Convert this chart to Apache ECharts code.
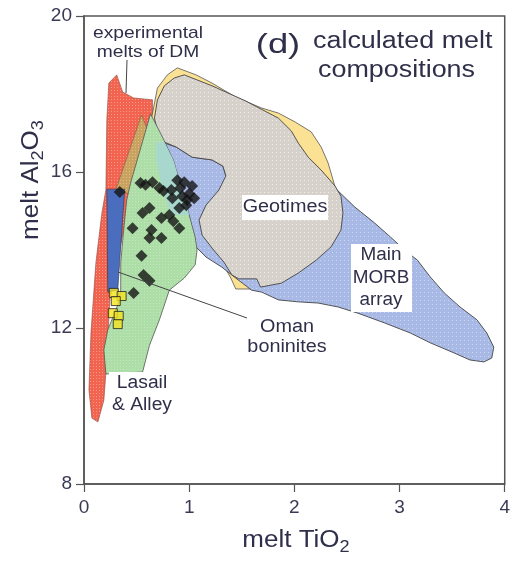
<!DOCTYPE html>
<html><head><meta charset="utf-8">
<script src="https://cdn.jsdelivr.net/npm/echarts@6/dist/echarts.min.js"></script>
<style>html,body{margin:0;padding:0;background:#fff}#c{width:513px;height:561px}</style>
</head><body><div id="c"></div>
<script>
// ---- axis ticks ----
const xTickValues = [0, 1, 2, 3, 4];
const yTickValues = [8, 12, 16, 20];

// ---- fields (melt TiO2, melt Al2O3) ----
const expMeltsDM = [[0.236,18.28],[0.311,18.49],[0.368,18.05],[0.472,17.90],[0.651,17.85],[0.651,16.56],[0.434,15.28],[0.245,12.72],[0.217,11.18],[0.189,10.15],[0.132,9.59],[0.075,9.69],[0.047,10.41],[0.066,11.87],[0.113,13.67],[0.170,14.95],[0.208,15.54],[0.217,17.33]];
const tanField = [[0.547,17.46],[0.642,16.82],[0.481,15.41],[0.302,15.54]];
const geotimesEnvelope = [[0.642,17.38],[0.698,18.15],[0.792,18.49],[0.887,18.67],[1.066,18.49],[1.217,18.28],[1.443,17.92],[1.689,17.64],[1.849,17.51],[2.009,17.28],[2.160,17.03],[2.255,16.64],[2.321,16.23],[2.387,15.62],[2.226,14.51],[1.679,13.00],[1.443,13.00],[1.396,13.28],[1.189,14.26],[0.764,16.56]];
const morbArray = [[0.679,16.82],[0.877,16.64],[1.028,16.38],[1.217,16.31],[1.321,16.15],[1.349,15.90],[1.708,15.85],[2.387,15.59],[2.575,15.10],[2.764,14.69],[2.915,14.33],[3.047,14.00],[3.170,13.74],[3.292,13.31],[3.425,12.90],[3.575,12.54],[3.736,12.21],[3.830,11.87],[3.896,11.51],[3.877,11.23],[3.802,11.13],[3.670,11.18],[3.519,11.36],[3.292,11.62],[3.104,11.87],[2.858,12.13],[2.604,12.38],[2.415,12.54],[2.226,12.64],[2.038,12.67],[1.849,12.72],[1.689,12.92],[1.594,12.97],[1.443,13.28],[1.311,13.56],[1.160,13.82],[1.075,14.05],[0.953,14.26],[0.830,14.90],[0.745,15.54],[0.689,16.31]];
const geotimesField = [[0.670,17.38],[0.698,17.85],[0.764,18.21],[0.858,18.41],[0.953,18.49],[1.217,18.21],[1.538,17.82],[1.849,17.38],[1.972,17.05],[2.038,16.74],[2.132,16.38],[2.255,16.05],[2.387,15.64],[2.443,15.38],[2.462,14.95],[2.443,14.51],[2.349,14.08],[2.208,13.74],[2.038,13.41],[1.877,13.15],[1.679,13.05],[1.642,13.26],[1.472,13.26],[1.406,13.36],[1.330,13.69],[1.217,14.05],[1.123,14.38],[1.094,14.77],[1.160,15.15],[1.283,15.54],[1.349,15.90],[1.321,16.15],[1.217,16.31],[1.028,16.38],[0.877,16.64],[0.717,16.82]];
const lasailAlley = [[0.632,17.49],[0.736,16.95],[0.849,16.31],[0.962,15.28],[1.057,14.33],[1.075,14.00],[1.057,13.62],[0.953,13.28],[0.811,12.97],[0.717,12.21],[0.623,11.56],[0.557,10.87],[0.208,10.82],[0.189,11.44],[0.226,11.95],[0.321,12.59],[0.349,12.97],[0.349,13.67],[0.377,14.51],[0.406,15.28],[0.443,15.72],[0.547,16.69]];
const overlapField = [[0.689,16.77],[0.764,16.77],[0.849,16.31],[0.962,15.28],[1.000,14.90],[0.830,14.90],[0.745,15.54],[0.689,16.31]];
const omanField = [[0.217,15.56],[0.387,15.56],[0.321,12.97],[0.226,12.92]];

// ---- points ----
const diamondsTiO2 = [0.340,0.538,0.585,0.651,0.717,0.755,0.887,0.915,0.840,0.934,1.000,1.047,0.972,0.906,0.557,0.623,0.736,0.811,0.849,0.906,0.462,0.642,0.623,0.736,0.547,0.566,0.623,0.472,1.028,0.953,0.830,0.981];
const diamondsAl2O3 = [15.49,15.72,15.67,15.74,15.59,15.51,15.79,15.59,15.33,15.38,15.44,15.33,15.15,15.08,14.95,15.08,14.82,14.90,14.74,14.56,14.56,14.51,14.31,14.31,13.85,13.36,13.21,12.90,15.64,15.74,15.54,15.28];
const squaresTiO2 = [0.283,0.358,0.302,0.274,0.330,0.321];
const squaresAl2O3 = [12.90,12.82,12.69,12.38,12.31,12.10];

function pat(base, dot, step) {
  const c = document.createElement('canvas');
  c.width = step; c.height = step;
  const g = c.getContext('2d');
  g.fillStyle = base; g.fillRect(0, 0, step, step);
  g.fillStyle = dot; g.fillRect(0, 0, 1, 1);
  return {image: c, repeat: 'repeat'};
}
function poly(name, pts, fill, stroke, lw) {
  return {
    type: 'custom', name: name, coordinateSystem: 'cartesian2d', silent: true,
    data: [[0, 8]],
    renderItem: function (params, api) {
      return {type: 'polygon', shape: {points: pts.map(p => api.coord(p))},
        style: {fill: fill, stroke: stroke, lineWidth: lw}};
    }
  };
}
const txtColor = '#2f2f4a';
const FF = '"Liberation Sans", Arial, sans-serif';
function t(text, x, y, size, align, sx, extra) {
  return Object.assign({type: 'text', x: x, y: y, z: 100, scaleX: sx || 1.13,
    style: {text: text, fill: txtColor, font: size + 'px ' + FF, textAlign: align || 'center', textVerticalAlign: 'middle'}}, extra || {});
}
function box(x1, y1, x2, y2) {
  return {type: 'rect', z: 99, shape: {x: x1, y: y1, width: x2 - x1, height: y2 - y1}, style: {fill: '#fff'}};
}
function ln(x1, y1, x2, y2) {
  return {type: 'line', z: 101, shape: {x1: x1, y1: y1, x2: x2, y2: y2}, style: {stroke: '#444', lineWidth: 1}};
}

const chart = echarts.init(document.getElementById('c'), null, {renderer: 'canvas'});
const axisCol = '#555';
chart.setOption({
  animation: false,
  grid: {left: 84, right: 5, top: 16, bottom: 77, show: true, borderColor: axisCol, borderWidth: 1.5},
  xAxis: {type: 'value', min: xTickValues[0], max: xTickValues[xTickValues.length - 1], interval: 1,
    axisLine: {lineStyle: {color: axisCol, width: 1.5}}, axisTick: {length: 8, lineStyle: {color: axisCol, width: 1.2}},
    splitLine: {show: false},
    axisLabel: {margin: 14, color: '#3a3a55', fontSize: 19, fontFamily: FF}},
  yAxis: {type: 'value', min: yTickValues[0], max: yTickValues[yTickValues.length - 1], interval: 4,
    axisLine: {show: true, lineStyle: {color: axisCol, width: 1.5}}, axisTick: {show: true, length: 8, lineStyle: {color: axisCol, width: 1.2}},
    splitLine: {show: false},
    axisLabel: {margin: 12, color: '#3a3a55', fontSize: 19, fontFamily: FF}},
  series: [
    poly('experimental melts of DM', expMeltsDM, pat('#f2644f', 'rgba(255,190,180,0.6)', 3), '#8a4a40', 0.6),
    poly('Geotimes envelope', geotimesEnvelope, '#fbe194', '#555', 0.8),
    poly('Main MORB array', morbArray, pat('#a8b9e6', 'rgba(235,240,255,0.55)', 4), '#444', 0.9),
    poly('Geotimes', geotimesField, pat('#d7d1cb', 'rgba(255,255,255,0.6)', 4), '#444', 0.9),
    poly('tan', tanField, pat('#c9a260', 'rgba(240,220,180,0.5)', 3), '#6a5a40', 0.5),
    poly('Lasail & Alley', lasailAlley, pat('#addea8', 'rgba(215,240,210,0.5)', 3), '#555', 0.8),
    poly('overlap', overlapField, '#a7d7cd', null, 0),
    poly('Oman', omanField, '#4a6dbd', '#334', 0.6),
    {type: 'scatter', name: 'squares', symbol: 'rect', symbolSize: 9, silent: true,
      itemStyle: {color: '#f2e41f', borderColor: '#222', borderWidth: 1},
      data: squaresTiO2.map((v, i) => [v, squaresAl2O3[i]])},
    {type: 'scatter', name: 'diamonds', symbol: 'diamond', symbolSize: 12, silent: true,
      itemStyle: {color: '#141414'},
      data: diamondsTiO2.map((v, i) => [v, diamondsAl2O3[i]])}
  ],
  graphic: [
    box(242, 195, 328, 220), box(351, 244, 412, 312), box(109, 372, 176, 417),
    ln(127, 60, 126, 93), ln(118, 272, 247, 318),
    t('experimental', 148, 33, 17), t('melts of DM', 148, 52, 17),
    t('(d)', 278, 45, 28, 'center', 1.3),
    t('calculated melt', 313, 42, 23, 'left', 1.17),
    t('compositions', 318, 71, 23, 'left', 1.17),
    t('Geotimes', 285, 207, 18, 'center', 1.1),
    t('Main', 381, 255, 18, 'center', 1.05), t('MORB', 381, 278, 18, 'center', 1.05), t('array', 381, 300, 18, 'center', 1.05),
    t('Oman', 287, 327, 18, 'center', 1.1), t('boninites', 287, 347, 18, 'center', 1.1),
    t('Lasail', 142, 383, 18, 'center', 1.07), t('& Alley', 142, 405, 18, 'center', 1.07),
    {type: 'text', x: 296, y: 541, z: 100, scaleX: 1.13,
      style: {text: 'melt TiO{s|2}', fill: txtColor, font: '23px ' + FF, lineHeight: 30, textAlign: 'center', textVerticalAlign: 'middle',
        rich: {s: {fontSize: 16, fontFamily: FF, lineHeight: 12, verticalAlign: 'bottom', fill: txtColor}}}},
    {type: 'text', x: 32, y: 180, z: 100, rotation: Math.PI / 2, scaleX: 1.13,
      style: {text: 'melt Al{s|2}O{s|3}', fill: txtColor, font: '23px ' + FF, lineHeight: 30, textAlign: 'center', textVerticalAlign: 'middle',
        rich: {s: {fontSize: 16, fontFamily: FF, lineHeight: 12, verticalAlign: 'bottom', fill: txtColor}}}}
  ]
});
</script></body></html>
